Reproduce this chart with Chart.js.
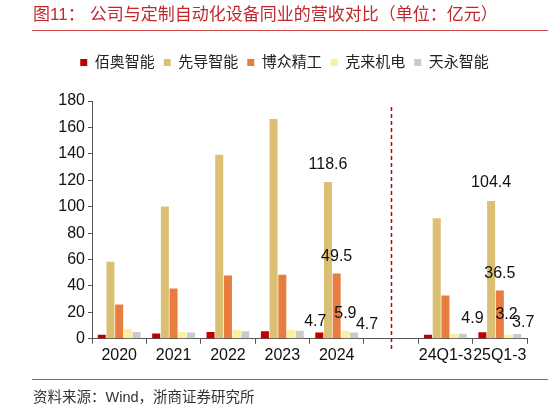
<!DOCTYPE html>
<html><head><meta charset="utf-8">
<script src="https://cdn.jsdelivr.net/npm/chart.js@4.4.0/dist/chart.umd.min.js"></script>
<style>
html,body{margin:0;padding:0;background:#fff;width:548px;height:411px;overflow:hidden;}
#wrap{position:absolute;left:0;top:0;width:548px;height:411px;}
#title{position:absolute;left:33px;top:4px;font-size:17px;font-family:"Liberation Sans","Noto Sans CJK SC",sans-serif;color:#C0282E;white-space:nowrap;line-height:22px}
#title span{margin-left:5px}
#tline{position:absolute;left:32px;top:30px;width:516px;height:0;border-top:1.5px solid #D04A4A;}
#bline{position:absolute;left:32px;top:379px;width:516px;height:0;border-top:1.5px solid #D04A4A;}
#src{position:absolute;left:33px;top:387px;font-size:14.5px;font-family:"Liberation Sans","Noto Sans CJK SC",sans-serif;color:#333;white-space:nowrap;line-height:20px}
</style></head>
<body>
<div id="wrap"><canvas id="c" width="548" height="411"></canvas></div>
<div id="title">图11：<span>公司与定制自动化设备同业的营收对比（单位：亿元）</span></div>
<div id="tline"></div>
<div id="bline"></div>
<div id="src">资料来源：Wind，浙商证券研究所</div>
<script>
const categories = ['2020','2021','2022','2023','2024','','24Q1-3','25Q1-3'];
const seriesNames = ['佰奥智能','先导智能','博众精工','克来机电','天永智能'];
const baiao    = [3.0, 4.1, 5.1, 5.8, 4.7, null, 3.0, 4.9];
const xiandao  = [58.3, 100.1, 139.4, 166.3, 118.6, null, 91.3, 104.4];
const bozhong  = [25.9, 38.0, 47.9, 48.4, 49.5, null, 32.7, 36.5];
const kelai    = [7.6, 5.1, 6.6, 6.6, 5.9, null, 3.8, 3.2];
const tianyong = [5.1, 4.8, 5.8, 6.1, 4.7, null, 3.8, 3.7];
const yMin = 0, yMax = 180, yStep = 20;
const labelledCategories = ['2024','25Q1-3'];
const dividerCategory = '';

const colors = ['#C00000','#DBBF72','#E97C3F','#FBF0A0','#CACACA'];
const FONT = '"Liberation Sans","Noto Sans CJK SC",sans-serif';
// label nudges (dx, lift) per category / series, purely presentational
const labelNudge = {
  '2024':   [[-4,11],[0,18],[0,17],[0,17],[13,8]],
  '25Q1-3': [[-10,14],[0,18],[0,17],[-2,20],[6,11]]
};

const seriesData = [baiao, xiandao, bozhong, kelai, tianyong];

const legendGap = {
  id: 'legendGap',
  beforeLayout(chart) {
    const lg = chart.legend;
    if (lg && !lg._gapPatched) {
      const f = lg.fit.bind(lg);
      lg.fit = function () { f(); this.height += 21; };
      lg._gapPatched = true;
    }
  }
};

const labelPlugin = {
  id: 'valueLabels',
  afterDatasetsDraw(chart) {
    const ctx = chart.ctx;
    ctx.save();
    ctx.font = '16px ' + FONT;
    ctx.fillStyle = '#111';
    ctx.textAlign = 'center';
    ctx.textBaseline = 'middle';
    labelledCategories.forEach(cat => {
      const i = categories.indexOf(cat);
      chart.data.datasets.forEach((ds, d) => {
        const el = chart.getDatasetMeta(d).data[i];
        const v = ds.data[i];
        if (!el || v == null) return;
        const n = labelNudge[cat][d];
        ctx.fillText(v.toFixed(1), el.x + n[0], el.y - n[1]);
      });
    });
    ctx.restore();
  }
};

const dividerPlugin = {
  id: 'divider',
  afterDatasetsDraw(chart) {
    const x = chart.scales.x.getPixelForValue(categories.indexOf(dividerCategory));
    const a = chart.chartArea;
    const ctx = chart.ctx;
    ctx.save();
    ctx.strokeStyle = '#C00000';
    ctx.lineWidth = 1.5;
    ctx.setLineDash([4, 3]);
    ctx.beginPath();
    ctx.moveTo(Math.round(x) + 0.5, a.top + 6);
    ctx.lineTo(Math.round(x) + 0.5, a.bottom + 12);
    ctx.stroke();
    ctx.restore();
  }
};

new Chart(document.getElementById('c'), {
  type: 'bar',
  data: {
    labels: categories,
    datasets: seriesNames.map((name, k) => ({
      label: name,
      data: seriesData[k],
      backgroundColor: colors[k],
      borderWidth: 0,
      barPercentage: 0.92,
      categoryPercentage: 0.8
    }))
  },
  plugins: [legendGap, labelPlugin, dividerPlugin],
  options: {
    responsive: false,
    animation: false,
    devicePixelRatio: 1,
    layout: { padding: { left: 42, right: 21, top: 46, bottom: 44 } },
    plugins: {
      legend: {
        position: 'top',
        labels: { boxWidth: 7, boxHeight: 7, padding: 9, color: '#222', font: { size: 15, family: FONT } }
      },
      tooltip: { enabled: false }
    },
    scales: {
      x: {
        grid: { drawOnChartArea: false, drawTicks: true, tickLength: 5, color: '#555', offset: true },
        border: { color: '#555' },
        ticks: { autoSkip: false, maxRotation: 0, minRotation: 0, color: '#111', padding: 2, font: { size: 16, family: FONT } }
      },
      y: {
        min: yMin, max: yMax,
        ticks: { stepSize: yStep, color: '#111', padding: 3, font: { size: 16, family: FONT } },
        grid: { drawOnChartArea: false, tickLength: 4, color: '#555' },
        border: { color: '#555' },
        afterFit(s) { s.width = 50; }
      }
    }
  }
});
</script>
</body></html>
